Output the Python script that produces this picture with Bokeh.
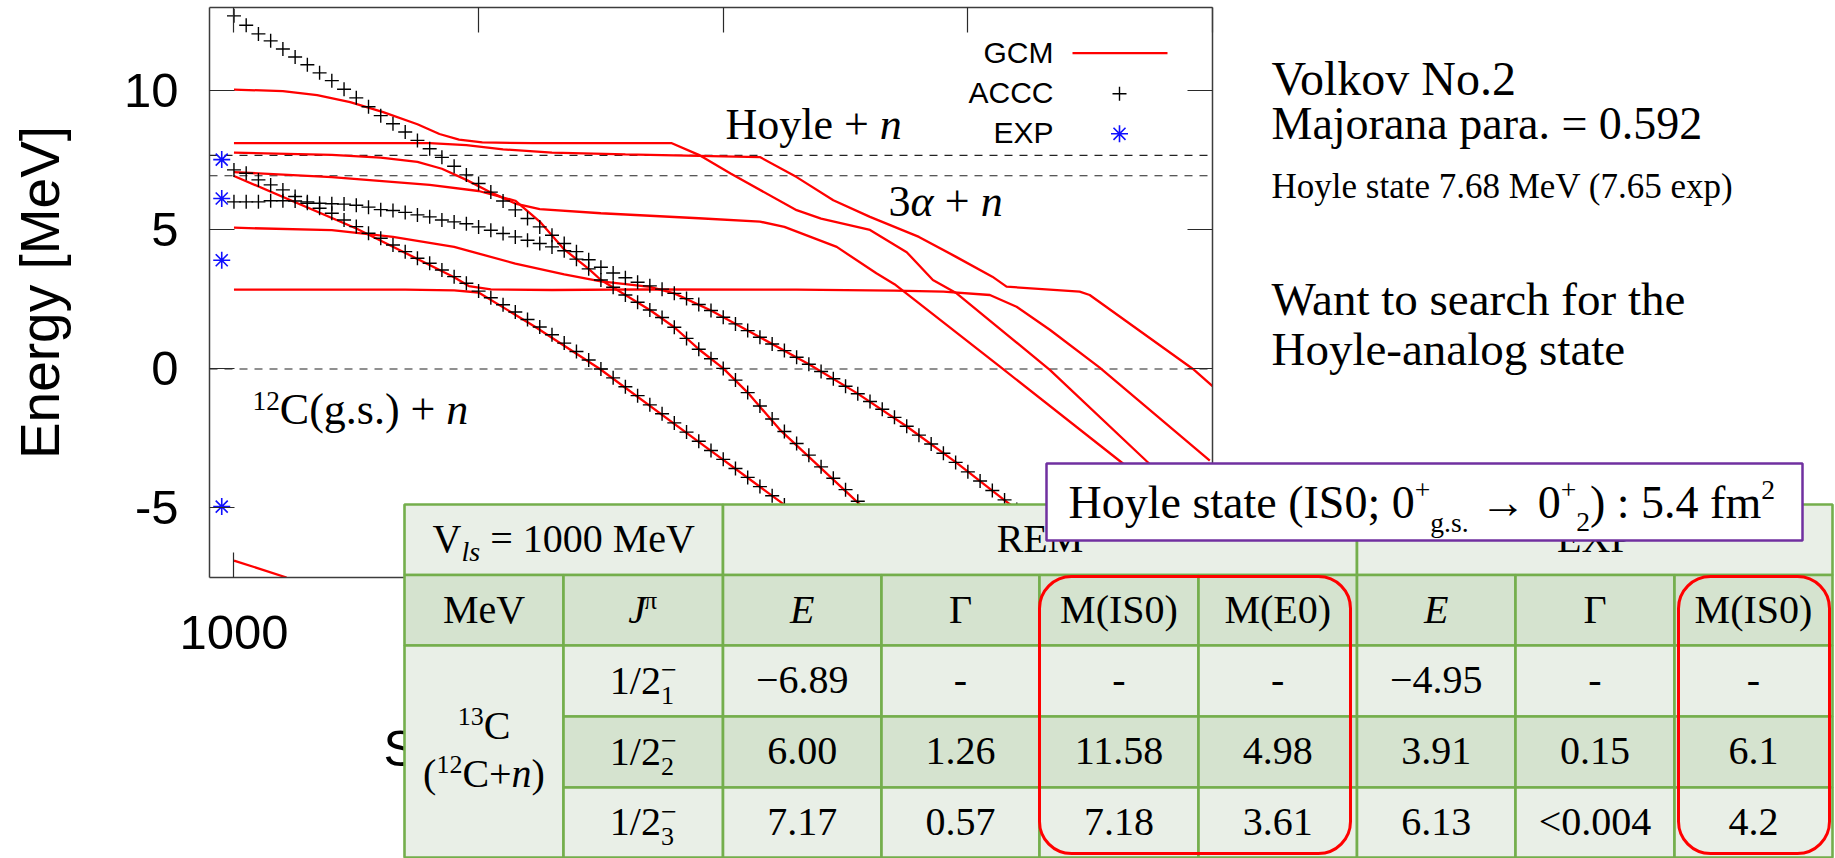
from bokeh.plotting import figure
from bokeh.models import Range1d, LinearAxis, FixedTicker, Span
from bokeh.core.properties import value
from bokeh.embed import file_html
from bokeh.resources import INLINE

# ---------------------------------------------------------------- data
x_ticks = [1000]
x_tick_labels = ["1000"]
x_ticks_unlabelled = [2000, 3000, 4000, 5000]     # their labels sit behind the table
y_ticks = [-5, 0, 5, 10]
y_tick_labels = ["-5", "0", "5", "10"]
thresholds = [0.0, 6.95, 7.68]                   # 12C(g.s.)+n, 3a+n, Hoyle+n

accc_start, accc_step = 1000, 50
accc_L1 = [7.16, 7.04, 6.80, 6.62, 6.44, 6.20, 5.96, 5.78, 5.60, 5.36, 5.12, 4.88, 4.70, 4.46,
           4.22, 3.98, 3.80, 3.56, 3.32, 3.08, 2.80, 2.56, 2.31, 2.05, 1.78, 1.51, 1.23, 0.93,
           0.63, 0.32, 0.00, -0.32, -0.64, -0.96, -1.29, -1.61, -1.94, -2.27, -2.60, -2.93,
           -3.25, -3.58, -3.90, -4.23, -4.56, -4.89, -5.21]
accc_L2 = [6.01, 6.01, 6.01, 6.05, 6.05, 6.04, 6.01, 5.96, 5.94, 5.93, 5.89, 5.82, 5.73, 5.70,
           5.63, 5.54, 5.47, 5.36, 5.29, 5.22, 5.11, 4.99, 4.87, 4.75, 4.63, 4.51, 4.39, 4.25,
           3.95, 3.60, 3.20, 2.94, 2.66, 2.40, 2.12, 1.85, 1.50, 1.10, 0.71, 0.37, 0.02, -0.40,
           -0.85, -1.33, -1.80, -2.25, -2.68, -3.10, -3.52, -3.93, -4.34, -4.76, -5.17]
accc_L3 = [12.70, 12.36, 12.05, 11.80, 11.51, 11.22, 10.94, 10.65, 10.37, 10.06, 9.75, 9.43,
           9.11, 8.82, 8.52, 8.22, 7.92, 7.61, 7.29, 6.98, 6.67, 6.36, 6.04, 5.72, 5.41, 5.11,
           4.81, 4.51, 4.22, 3.93, 3.66, 3.45, 3.28, 3.12, 2.99, 2.87, 2.72, 2.53, 2.32, 2.10,
           1.86, 1.62, 1.38, 1.14, 0.90, 0.66, 0.42, 0.17, -0.09, -0.35, -0.62, -0.89, -1.17,
           -1.45, -1.74, -2.06, -2.38, -2.70, -3.03, -3.36, -3.70, -4.03, -4.37, -4.71, -5.05,
           -5.39, -5.73]

exp_x = 950
exp_e = [7.53, 6.13, 3.91, -4.95]

gcm_0_x = [1000, 1215]
gcm_0_e = [-6.89, -7.50]
gcm_1_x = [1000, 1200, 1340, 1475, 1610, 1750, 1840, 1920, 2015, 2220, 2790, 2900, 3030, 3300,
           3400, 3600, 3750, 3857, 3954, 4335, 4730, 5000]
gcm_1_e = [10.05, 9.99, 9.85, 9.60, 9.24, 8.80, 8.45, 8.25, 8.15, 8.12, 8.12, 7.70, 7.03, 5.71,
           5.41, 5.00, 4.20, 3.20, 2.72, -0.03, -3.31, -5.50]
gcm_2_x = [1000, 1800, 1950, 2100, 2300, 2600, 3150, 3300, 3450, 3600, 3800, 3950, 4100, 4158,
           4457, 4498, 4920, 5000]
gcm_2_e = [8.12, 8.12, 8.05, 7.90, 7.78, 7.72, 7.62, 6.90, 6.07, 5.47, 4.75, 4.04, 3.32, 2.96,
           2.78, 2.66, 0.00, -0.62]
gcm_3_x = [1000, 1400, 1600, 1750, 1850, 1950, 2050, 2150, 2250, 2500, 2900, 3150, 3250, 3464,
           3626, 3700, 4130, 4621, 5000]
gcm_3_e = [7.78, 7.70, 7.60, 7.45, 7.20, 6.80, 6.35, 5.95, 5.75, 5.60, 5.42, 5.30, 5.11, 4.39,
           3.44, 3.05, 0.09, -3.31, -6.00]
gcm_4_x = [1000, 1400, 1800, 2000, 2150, 2250, 2350, 2450, 2500, 2600, 2700, 2800, 2900, 3000,
           3100, 3231, 3545, 3700]
gcm_4_e = [7.08, 6.90, 6.62, 6.40, 6.05, 5.30, 4.30, 3.60, 3.20, 2.66, 2.12, 1.50, 0.71, 0.02,
           -0.85, -2.18, -4.76, -6.00]
gcm_5_x = [1000, 1400, 1650, 1900, 2150, 2350, 2500, 2600, 2700, 2800, 2950, 3150, 3354, 3545,
           3749, 3953, 4144, 4300]
gcm_5_e = [5.08, 4.99, 4.75, 4.39, 3.79, 3.40, 3.15, 3.05, 2.95, 2.72, 2.10, 1.14, 0.15, -0.86,
           -2.06, -3.37, -4.68, -5.73]
gcm_6_x = [1000, 1700, 1900, 2000, 2229, 2496, 2904, 3231, 3400]
gcm_6_e = [2.85, 2.85, 2.83, 2.75, 1.53, 0.00, -2.65, -4.76, -5.90]
gcm_7_x = [1000, 1500, 1900, 1960, 2050, 2300, 2700, 3300, 3700, 3900, 4090, 4199, 4335, 4539, 4989]
gcm_7_e = [6.94, 5.05, 3.30, 2.98, 2.86, 2.84, 2.86, 2.85, 2.82, 2.78, 2.66, 2.24, 1.41, 0.05, -3.30]

gcm_curves = [(gcm_0_x, gcm_0_e), (gcm_1_x, gcm_1_e), (gcm_2_x, gcm_2_e), (gcm_3_x, gcm_3_e),
              (gcm_4_x, gcm_4_e), (gcm_5_x, gcm_5_e), (gcm_6_x, gcm_6_e), (gcm_7_x, gcm_7_e)]

# table
col_edges = [404, 563, 722.5, 881, 1039, 1198, 1356.5, 1515, 1674, 1832]
row_edges = [504, 574.5, 645, 716, 787, 857]
state_sub = ["1", "2", "3"]
rem_E = ["\u22126.89", "6.00", "7.17"]
rem_G = ["-", "1.26", "0.57"]
rem_MIS0 = ["-", "11.58", "7.18"]
rem_ME0 = ["-", "4.98", "3.61"]
exp_E = ["\u22124.95", "3.91", "6.13"]
exp_G = ["-", "0.15", "<0.004"]
exp_MIS0 = ["-", "6.1", "4.2"]

# ---------------------------------------------------------------- layout helpers
W, H = 1835, 858
FL, FR, FT, FB = 209, 1212, 7, 577
X0, X1, Y0, Y1 = 900, 5000, -7.5, 13
SERIF, SANS = "Liberation Serif", "Liberation Sans"
LIGHT, DARK, GREEN = "#E9EFE7", "#D5E3CF", "#74AE4C"
BORDER = "#3c3c3c"
BASE_FIX = 0.37          # text glyph baseline correction (fraction of font size)


def dx(px):
    return X0 + (px - FL) * (X1 - X0) / (FR - FL)


def dy(py):
    return Y1 - (py - FT) * (Y1 - Y0) / (FB - FT)


TW = {' ': 250, '(': 333, ')': 333, '+': 564, '-': 333, '.': 250, '/': 278, ':': 278, ';': 278,
      '<': 564, '=': 564, '\u2212': 564, '\u2192': 1000, '\u03c0': 549, '\u0393': 578, '\u03b1': 531,
      'C': 667, 'E': 611, 'H': 722, 'I': 333, 'J': 389, 'M': 889, 'P': 556, 'R': 667, 'S': 556,
      'V': 722, 'X': 722, 'a': 444, 'e': 444, 'f': 333, 'g': 500, 'l': 278, 'm': 778, 'n': 500,
      'o': 500, 's': 389, 't': 278, 'y': 500}


def tw(s, size):
    return sum(TW.get(c, 500) for c in s) * size / 1000.0


p = figure(width=W, height=H, title=None, x_range=Range1d(X0, X1), y_range=Range1d(Y0, Y1),
           output_backend="svg", toolbar_location=None, tools="",
           min_border_left=FL, min_border_right=W - FR, min_border_top=FT, min_border_bottom=H - FB)
p.background_fill_color = "white"
p.border_fill_color = "white"
p.outline_line_color = None
p.xgrid.visible = False
p.ygrid.visible = False


def style_axis(ax):
    ax.major_tick_in = 25
    ax.major_tick_out = 0
    ax.minor_tick_in = 25
    ax.minor_tick_out = 0
    ax.axis_line_color = BORDER
    ax.axis_line_width = 1.5
    ax.major_tick_line_color = "#2a2a2a"
    ax.major_tick_line_width = 1.2
    ax.minor_tick_line_color = "#2a2a2a"
    ax.minor_tick_line_width = 1.2


xa = p.xaxis[0]
xa.ticker = FixedTicker(ticks=x_ticks, minor_ticks=x_ticks_unlabelled)
xa.major_label_overrides = {t: l for t, l in zip(x_ticks, x_tick_labels)}
ya = p.yaxis[0]
ya.ticker = FixedTicker(ticks=y_ticks)
ya.major_label_overrides = {t: l for t, l in zip(y_ticks, y_tick_labels)}
ya.axis_label = "Energy [MeV]"
ya.axis_label_text_font = SANS
ya.axis_label_text_font_size = "55px"
ya.axis_label_text_font_style = "normal"
ya.axis_label_text_color = "black"
ya.axis_label_standoff = 50
for ax in (xa, ya):
    style_axis(ax)
    ax.major_label_text_font = SANS
    ax.major_label_text_font_size = "49px"
    ax.major_label_text_color = "black"
xa.major_label_standoff = 38
ya.major_label_standoff = 31

ra = LinearAxis(ticker=FixedTicker(ticks=[], minor_ticks=y_ticks))
style_axis(ra)
p.add_layout(ra, "right")
ta = LinearAxis(ticker=FixedTicker(ticks=[], minor_ticks=x_ticks + x_ticks_unlabelled))
style_axis(ta)
p.add_layout(ta, "above")

for t in thresholds:
    p.add_layout(Span(location=t, dimension="width", line_color="#222222", line_width=1.1,
                      line_dash="8 7", level="underlay"))

# ---------------------------------------------------------------- data glyphs
for xs, es in gcm_curves:
    p.line(xs, es, line_color="#ff0000", line_width=2.3)
for series in (accc_L1, accc_L2, accc_L3):
    xs = [accc_start + accc_step * i for i in range(len(series))]
    p.scatter(xs, series, marker="cross", size=14, line_color="black", line_width=1.4)
p.scatter([exp_x] * len(exp_e), exp_e, marker="asterisk", size=17, line_color="#1010ff",
          line_width=1.6)

# legend (gnuplot style: text then sample)
p.line([dx(1072), dx(1167)], [dy(52.7), dy(52.7)], line_color="#ff0000", line_width=2.3)
p.scatter([dx(1119)], [dy(93.3)], marker="cross", size=14, line_color="black", line_width=1.4)
p.scatter([dx(1119)], [dy(133.3)], marker="asterisk", size=17, line_color="#1010ff", line_width=1.6)


def put(px, py, text, size, font=SERIF, style="normal", color="black", align="left"):
    p.text(x=[dx(px)], y=[dy(py - BASE_FIX * size)], text=[text], text_font=value(font),
           text_font_size=value("%.1fpx" % size), text_font_style=value(style),
           text_color=color, text_align=value(align), text_baseline=value("alphabetic"),
           level="overlay")


def R(t, s=1.0, st="normal", r=0.0, adv=True):
    return (t, s, st, r, adv)


def runs(px, py, parts, size, center=False, font=SERIF):
    total = sum(tw(t, size * s) for (t, s, st, r, adv) in parts if adv)
    x = px - total / 2.0 if center else px
    for t, s, st, r, adv in parts:
        core = t.strip(" ")
        lead = len(t) - len(t.lstrip(" "))
        if core:
            put(x + tw(" " * lead, size * s), py + r * size, core, size * s, font=font, style=st)
        if adv:
            x += tw(t, size * s)


for txt, bl in (("GCM", 63), ("ACCC", 103), ("EXP", 143)):
    put(1053, bl, txt, 30, font=SANS, align="right")

# in-plot annotations
runs(725, 140, [R("Hoyle + "), R("n", st="italic")], 44)
runs(888, 217, [R("3"), R("\u03b1", st="italic"), R(" + "), R("n", st="italic")], 44)
runs(252, 425, [R("12", 0.62, r=-0.33), R("C(g.s.) + "), R("n", st="italic")], 44)

# partially hidden x-axis title (covered by the table)
put(383, 767, "S", 50, font=SANS)


# ---------------------------------------------------------------- table
def box(l, r, t, b, fill, line, lw, radius=0):
    p.quad(left=[dx(l)], right=[dx(r)], top=[dy(t)], bottom=[dy(b)], fill_color=fill,
           line_color=line, line_width=lw, border_radius=radius, level="overlay")


def cell(c0, c1, r0, r1, color):
    box(col_edges[c0], col_edges[c1], row_edges[r0], row_edges[r1], color, GREEN, 2.6)


cell(0, 2, 0, 1, LIGHT)
cell(2, 6, 0, 1, LIGHT)
cell(6, 9, 0, 1, LIGHT)
for c in range(9):
    cell(c, c + 1, 1, 2, DARK)
cell(0, 1, 2, 5, LIGHT)
for r, col in ((2, LIGHT), (3, DARK), (4, LIGHT)):
    for c in range(1, 9):
        cell(c, c + 1, r, r + 1, col)

TS = 40


def ccx(c0, c1=None):
    c1 = c0 + 1 if c1 is None else c1
    return (col_edges[c0] + col_edges[c1]) / 2.0


def base(r):
    return (row_edges[r] + row_edges[r + 1]) / 2.0 + 14


runs(ccx(0, 2), base(0), [R("V"), R("ls", 0.7, "italic", 0.2), R(" = 1000 MeV")], TS, center=True)
put(ccx(2, 6), base(0), "REM", TS, align="center")
put(ccx(6, 9), base(0), "EXP", TS, align="center")

put(ccx(0), base(1), "MeV", TS, align="center")
runs(ccx(1), base(1), [R("J", st="italic"), R("\u03c0", 0.65, r=-0.36)], TS, center=True)
heads = [("E", "italic"), ("\u0393", "normal"), ("M(IS0)", "normal"), ("M(E0)", "normal"),
         ("E", "italic"), ("\u0393", "normal"), ("M(IS0)", "normal")]
for i, (h, st) in enumerate(heads):
    put(ccx(2 + i), base(1), h, TS, style=st, align="center")

runs(ccx(0), 740, [R("13", 0.65, r=-0.35), R("C")], TS, center=True)
runs(ccx(0), 788, [R("("), R("12", 0.65, r=-0.35), R("C+"), R("n", st="italic"), R(")")], TS,
     center=True)

cols = [rem_E, rem_G, rem_MIS0, rem_ME0, exp_E, exp_G, exp_MIS0]
for k in range(3):
    r = 2 + k
    runs(ccx(1), base(r), [R("1/2"), R(state_sub[k], 0.65, r=0.25, adv=False),
                           R("\u2212", 0.7, r=-0.36)], TS, center=True)
    for i, col in enumerate(cols):
        put(ccx(2 + i), base(r), col[k], TS, align="center")

# Hoyle-state box
box(1046, 1802, 463, 540, "white", "#7030A0", 2.5)
runs(1068, 519, [R("Hoyle state (IS0; 0"), R("+", 0.6, r=-0.42), R("g.s.", 0.6, r=0.28),
                 R(" \u2192 0"), R("+", 0.6, r=-0.42), R("2", 0.6, r=0.28), R(") : 5.4 fm"),
                 R("2", 0.6, r=-0.42)], 46)

# red rounded frames
for l, rgt in ((1039, 1350), (1678, 1829)):
    box(l, rgt, 576, 853, None, "#ff0000", 3.0, radius=32)

# right-hand notes
put(1271, 96, "Volkov No.2", 48)
put(1271, 140, "Majorana para. = 0.592", 46)
put(1271, 199, "Hoyle state 7.68 MeV (7.65 exp)", 35)
put(1271, 316, "Want to search for the", 47)
put(1271, 366, "Hoyle-analog state", 47)

open("out.html", "w").write(file_html(p, INLINE))
